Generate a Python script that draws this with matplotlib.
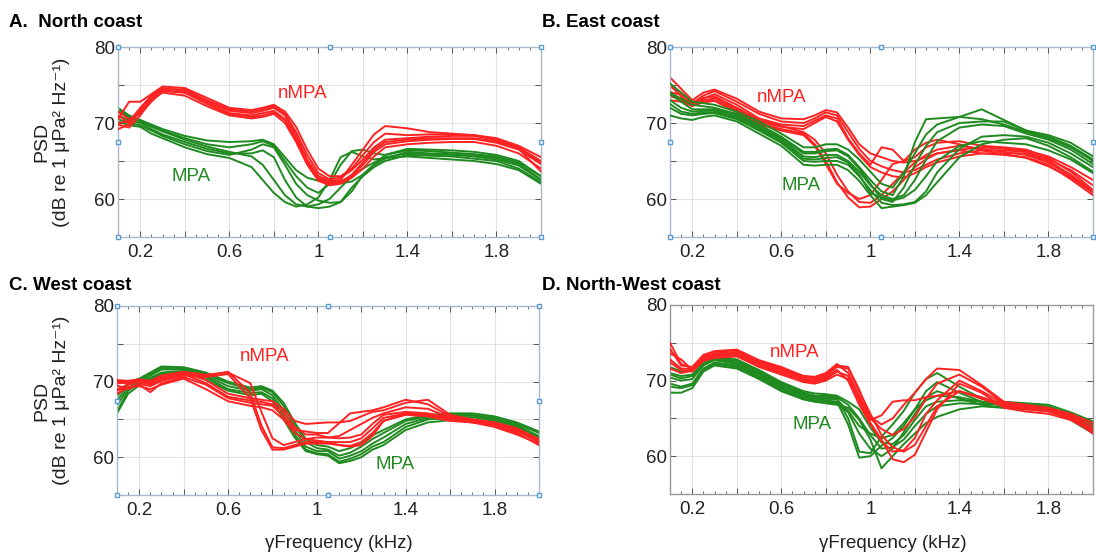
import numpy as np
import matplotlib
matplotlib.use('Agg')
import matplotlib.pyplot as plt
from matplotlib.ticker import FixedLocator, FixedFormatter, MultipleLocator

plt.rcParams['font.family'] = ['Liberation Sans', 'DejaVu Sans']

# frequency grid (kHz) shared by all curves
FREQ = [0.1, 0.15, 0.2, 0.25, 0.3, 0.4, 0.5, 0.6, 0.7, 0.75, 0.8, 0.85, 0.9, 0.95,
        1.0, 1.05, 1.1, 1.15, 1.2, 1.25, 1.3, 1.4, 1.5, 1.6, 1.7, 1.8, 1.9, 2.0]

# A. North coast
NORTH_NMPA = [
    [69.2, 69.8, 71.8, 73.5, 74.5, 74.4, 73.0, 71.8, 71.5, 71.8, 72.2, 71.2, 68.8, 65.8, 63.4, 62.6, 62.8, 63.8, 65.2, 66.8, 67.8, 68.0, 68.2, 68.3, 68.3, 67.8, 66.8, 65.0],
    [70.5, 72.8, 72.8, 73.8, 74.8, 74.6, 73.3, 72.0, 71.7, 72.0, 72.4, 71.5, 69.5, 66.5, 64.0, 63.0, 63.0, 64.0, 65.8, 67.5, 68.6, 68.4, 68.5, 68.5, 68.4, 68.0, 67.0, 65.5],
    [71.5, 70.5, 71.2, 72.8, 74.2, 74.0, 72.6, 71.3, 71.0, 71.3, 71.6, 70.5, 68.0, 65.0, 62.8, 62.2, 62.3, 63.0, 64.5, 66.2, 67.2, 67.6, 67.8, 67.9, 67.9, 67.4, 66.5, 64.6],
    [69.8, 69.4, 71.0, 73.0, 74.0, 73.6, 72.2, 71.0, 70.6, 70.8, 71.2, 70.0, 67.5, 64.5, 62.4, 61.8, 62.0, 62.8, 64.0, 65.6, 66.8, 67.2, 67.4, 67.5, 67.5, 67.0, 66.0, 64.0],
    [70.0, 70.2, 72.0, 73.6, 74.6, 74.2, 72.8, 71.6, 71.3, 71.6, 72.0, 71.0, 68.4, 65.2, 63.0, 62.4, 62.5, 64.5, 66.5, 68.5, 69.6, 69.3, 68.8, 68.6, 68.4, 67.8, 66.6, 64.8],
    [71.0, 70.0, 71.5, 73.2, 74.3, 74.0, 72.5, 71.2, 70.8, 71.0, 71.4, 70.4, 67.8, 64.8, 62.6, 62.0, 62.2, 63.2, 64.8, 66.5, 67.5, 67.8, 68.0, 68.0, 68.0, 67.6, 66.6, 63.6],
]
NORTH_MPA = [
    [72.0, 71.0, 70.4, 69.8, 69.2, 68.3, 67.7, 67.5, 67.6, 67.8, 67.2, 65.5, 63.8, 62.8, 62.4, 62.2, 62.1, 62.3, 63.2, 64.5, 65.8, 66.6, 66.5, 66.4, 66.2, 65.8, 65.0, 63.0],
    [71.5, 70.6, 70.2, 69.5, 68.9, 67.8, 66.9, 66.2, 65.6, 64.5, 62.5, 60.5, 59.3, 59.0, 59.3, 60.0, 61.5, 63.0, 64.0, 64.8, 65.5, 66.0, 65.9, 65.8, 65.6, 65.2, 64.4, 62.5],
    [71.0, 70.3, 70.0, 69.2, 68.5, 67.5, 66.6, 66.0, 66.0, 66.4, 65.5, 62.5, 60.2, 59.0, 58.8, 59.0, 59.6, 61.5, 63.0, 64.2, 65.0, 65.8, 65.7, 65.6, 65.3, 65.0, 64.0, 62.2],
    [70.5, 70.0, 69.7, 69.0, 68.3, 67.2, 66.3, 65.8, 66.5, 67.2, 66.8, 64.5, 62.0, 60.5, 59.8, 59.5, 59.6, 61.0, 63.2, 64.5, 65.3, 66.2, 66.0, 65.9, 65.8, 65.4, 64.6, 62.6],
    [71.8, 70.8, 70.3, 69.6, 69.0, 68.0, 67.2, 66.8, 67.2, 67.6, 67.0, 65.0, 63.0, 61.5, 60.8, 62.0, 64.5, 66.3, 66.5, 66.0, 65.8, 66.4, 66.3, 66.1, 65.9, 65.6, 64.8, 63.0],
    [70.2, 69.7, 69.5, 68.6, 68.0, 66.8, 65.9, 65.4, 64.2, 62.5, 60.8, 59.6, 59.0, 59.3, 60.2, 62.5, 65.5, 66.2, 65.6, 65.2, 65.4, 65.6, 65.4, 65.2, 65.0, 64.6, 63.8, 62.0],
]

# B. East coast
EAST_NMPA = [
    [76.0, 74.5, 73.0, 74.0, 74.4, 73.2, 71.5, 70.6, 70.5, 71.0, 71.7, 71.4, 69.4, 67.2, 66.0, 65.5, 65.0, 64.8, 65.0, 65.5, 66.0, 66.5, 66.8, 66.6, 66.4, 65.6, 64.2, 62.5],
    [74.8, 74.0, 72.6, 73.6, 74.2, 72.8, 71.2, 70.2, 70.0, 70.6, 71.4, 71.0, 68.8, 66.6, 65.0, 64.3, 63.8, 63.5, 63.8, 64.5, 65.2, 66.0, 66.4, 66.4, 66.2, 65.2, 63.8, 61.8],
    [73.5, 73.2, 72.4, 73.2, 73.8, 72.4, 70.6, 69.8, 69.6, 70.3, 71.0, 70.6, 68.0, 66.0, 64.5, 66.8, 66.5, 65.0, 65.5, 66.8, 67.4, 67.6, 67.0, 66.8, 66.5, 65.4, 63.6, 61.2],
    [74.2, 73.0, 72.2, 72.9, 73.3, 71.8, 70.2, 69.5, 69.2, 70.0, 70.8, 70.2, 67.8, 65.8, 64.2, 63.5, 63.0, 62.8, 63.4, 64.2, 64.8, 65.6, 66.0, 66.0, 66.0, 65.0, 63.2, 61.0],
    [75.0, 73.5, 72.5, 73.3, 73.5, 72.0, 70.4, 69.6, 68.8, 67.8, 66.0, 63.2, 61.0, 59.6, 59.5, 60.5, 62.0, 63.5, 64.8, 65.8, 66.5, 67.0, 66.6, 66.2, 65.8, 64.8, 63.0, 60.8],
    [74.0, 73.8, 72.8, 73.0, 73.0, 71.6, 70.0, 69.2, 68.6, 67.2, 65.0, 62.2, 60.2, 58.9, 59.0, 60.0, 61.0, 62.5, 64.2, 65.2, 66.0, 66.4, 66.0, 65.8, 65.5, 64.5, 62.6, 60.5],
    [73.0, 72.8, 72.3, 72.7, 72.9, 71.4, 69.8, 69.0, 68.4, 67.0, 64.6, 62.0, 60.8, 60.0, 60.5, 62.5, 64.6, 65.0, 66.5, 67.4, 67.8, 67.2, 66.4, 65.9, 65.4, 64.3, 62.8, 60.9],
]
EAST_MPA = [
    [75.2, 74.0, 72.8, 72.6, 72.4, 71.5, 70.2, 68.6, 66.8, 66.8, 67.2, 67.2, 66.5, 65.2, 63.6, 62.0, 61.5, 63.5, 66.0, 68.5, 69.8, 70.8, 71.8, 70.4, 69.0, 68.4, 67.4, 65.6],
    [74.0, 73.2, 72.4, 72.2, 72.0, 71.2, 69.8, 68.2, 66.2, 66.2, 66.5, 66.6, 65.8, 64.2, 62.5, 61.0, 60.5, 63.0, 67.5, 70.5, 70.6, 70.8, 70.5, 69.8, 68.8, 68.0, 66.8, 65.0],
    [73.0, 72.0, 71.5, 71.6, 71.6, 70.8, 69.4, 67.8, 65.6, 65.5, 65.8, 65.8, 65.0, 63.6, 61.8, 60.5, 60.0, 60.5, 62.5, 65.2, 67.6, 69.4, 69.8, 69.6, 68.6, 67.8, 66.5, 64.6],
    [72.0, 71.2, 71.0, 71.2, 71.3, 70.5, 69.0, 67.4, 65.0, 64.9, 65.0, 65.0, 64.5, 63.0, 61.2, 59.5, 59.2, 59.3, 59.6, 61.0, 63.5, 66.6, 68.2, 68.4, 68.2, 67.4, 66.0, 64.2],
    [71.0, 70.6, 70.4, 70.8, 71.0, 70.2, 68.6, 67.0, 64.5, 64.4, 64.5, 64.5, 63.8, 62.4, 60.5, 58.8, 59.0, 59.2, 59.5, 60.5, 62.2, 65.5, 67.2, 67.8, 68.0, 67.0, 65.5, 63.6],
    [73.8, 72.8, 71.8, 71.8, 71.8, 71.0, 69.6, 68.0, 66.0, 66.0, 66.3, 66.4, 65.6, 64.0, 62.0, 60.0, 59.6, 61.5, 64.5, 67.0, 68.8, 70.0, 70.2, 70.2, 69.0, 68.2, 67.0, 65.2],
    [72.5, 71.5, 71.2, 71.4, 71.4, 70.6, 69.2, 67.6, 65.3, 65.2, 65.4, 65.5, 64.8, 63.2, 60.8, 60.2, 59.8, 60.2, 61.2, 63.0, 65.0, 67.0, 67.6, 67.4, 67.2, 66.4, 65.2, 63.4],
]

# C. West coast
WEST_NMPA = [
    [69.0, 69.6, 70.0, 69.8, 70.4, 71.0, 70.8, 71.3, 68.5, 64.2, 61.3, 61.2, 61.6, 62.0, 62.0, 62.0, 62.0, 62.0, 62.5, 63.8, 65.2, 65.8, 65.6, 65.0, 64.8, 64.4, 63.6, 62.0],
    [68.4, 69.2, 69.7, 69.4, 70.1, 70.8, 70.6, 71.0, 67.8, 63.6, 61.0, 61.0, 61.4, 61.8, 61.8, 61.8, 61.6, 61.5, 62.0, 63.2, 64.8, 65.6, 65.4, 64.8, 64.6, 64.2, 63.2, 61.6],
    [70.0, 70.0, 70.2, 70.0, 70.6, 71.2, 70.2, 68.4, 67.8, 67.6, 67.4, 66.4, 64.8, 64.4, 64.5, 64.6, 64.6, 64.8, 65.4, 66.0, 66.2, 67.2, 67.6, 65.6, 65.0, 64.6, 63.8, 62.4],
    [69.5, 69.0, 69.6, 68.6, 69.8, 70.6, 69.6, 67.8, 67.2, 67.0, 66.8, 65.4, 63.6, 63.4, 63.2, 63.2, 64.5, 65.8, 66.0, 66.2, 66.6, 67.6, 67.0, 65.4, 64.8, 64.2, 63.4, 62.2],
    [68.8, 69.3, 69.4, 69.0, 69.6, 70.4, 69.0, 67.4, 66.8, 66.6, 66.2, 65.0, 63.2, 62.4, 62.2, 62.0, 61.6, 61.4, 61.6, 62.8, 64.8, 65.8, 65.6, 65.0, 64.6, 64.0, 63.0, 61.8],
    [69.8, 69.8, 70.0, 69.6, 70.2, 71.0, 69.8, 68.0, 67.5, 67.3, 67.0, 66.0, 64.0, 63.0, 63.0, 62.6, 62.8, 63.6, 64.4, 65.2, 65.8, 66.6, 66.4, 65.2, 64.9, 64.5, 63.5, 62.0],
    [70.2, 70.1, 70.3, 70.1, 70.8, 71.3, 70.9, 71.2, 69.8, 66.0, 62.5, 61.6, 62.0, 62.4, 62.6, 62.6, 62.5, 62.6, 63.0, 64.4, 65.6, 66.0, 65.8, 65.2, 64.9, 64.6, 63.8, 62.3],
]
WEST_MPA = [
    [66.0, 68.8, 69.8, 70.5, 71.2, 71.4, 70.6, 69.0, 68.5, 68.6, 67.8, 65.6, 63.0, 61.0, 60.5, 60.4, 59.4, 59.8, 60.4, 61.4, 62.0, 64.0, 65.0, 65.2, 65.3, 64.8, 64.0, 62.6],
    [66.8, 69.2, 70.0, 70.8, 71.6, 71.6, 70.8, 69.4, 68.8, 69.0, 68.2, 66.2, 63.6, 61.4, 60.8, 60.8, 59.8, 60.2, 60.8, 61.8, 62.6, 64.4, 65.2, 65.4, 65.5, 65.0, 64.2, 62.8],
    [67.4, 69.6, 70.2, 71.0, 71.8, 71.8, 71.0, 69.8, 69.0, 69.2, 68.6, 66.8, 64.2, 62.0, 61.2, 61.0, 60.2, 60.6, 61.4, 62.4, 63.2, 64.8, 65.4, 65.6, 65.6, 65.2, 64.4, 63.2],
    [65.8, 68.4, 69.5, 70.3, 71.0, 71.2, 70.3, 68.8, 68.2, 68.4, 67.4, 65.0, 62.6, 60.8, 60.4, 60.2, 59.2, 59.5, 60.0, 61.0, 61.6, 63.6, 64.6, 64.9, 65.0, 64.5, 63.6, 62.2],
    [68.0, 69.9, 70.4, 71.2, 72.0, 71.9, 71.2, 70.0, 69.2, 69.4, 68.8, 67.2, 64.6, 62.4, 61.6, 61.4, 60.8, 61.2, 61.9, 62.9, 63.6, 65.0, 65.6, 65.8, 65.8, 65.4, 64.6, 63.4],
]

# D. North-West coast
NW_NMPA = [
    [75.0, 72.2, 71.6, 73.0, 73.6, 73.8, 72.4, 71.4, 70.4, 70.2, 70.6, 71.8, 71.6, 68.6, 65.6, 62.8, 61.2, 60.6, 61.5, 64.0, 66.6, 68.6, 67.8, 66.8, 66.4, 66.2, 65.2, 63.6],
    [73.6, 72.8, 71.4, 73.2, 73.8, 74.0, 72.6, 71.6, 70.6, 70.4, 70.8, 72.0, 71.8, 68.8, 65.2, 64.2, 65.0, 66.8, 68.4, 70.2, 71.6, 71.4, 69.4, 67.2, 66.8, 66.4, 65.6, 64.4],
    [72.4, 71.4, 71.2, 72.6, 73.2, 73.4, 72.0, 71.0, 70.0, 69.8, 70.2, 71.2, 70.6, 67.6, 64.8, 65.4, 67.2, 67.4, 67.4, 67.8, 68.0, 68.6, 67.6, 66.6, 66.2, 65.9, 65.0, 63.4],
    [71.6, 71.0, 71.3, 72.6, 73.0, 73.2, 71.8, 70.8, 69.8, 69.6, 70.0, 70.8, 70.2, 67.2, 64.4, 62.2, 59.6, 59.2, 60.2, 63.2, 66.2, 69.6, 68.4, 66.4, 65.9, 65.6, 64.8, 63.2],
    [74.2, 72.0, 71.8, 73.4, 73.9, 74.1, 72.7, 71.8, 70.6, 70.5, 71.0, 72.2, 71.0, 68.0, 65.0, 63.6, 62.8, 63.6, 65.2, 67.6, 69.6, 70.8, 69.2, 67.0, 66.6, 66.3, 65.4, 64.0],
    [72.8, 71.6, 71.5, 72.8, 73.4, 73.6, 72.2, 71.2, 70.2, 70.0, 70.4, 71.4, 70.0, 66.8, 64.2, 62.0, 60.6, 60.8, 62.4, 65.6, 67.4, 70.0, 68.6, 66.9, 66.5, 66.0, 65.1, 63.0],
]
NW_MPA = [
    [71.8, 71.2, 71.4, 72.6, 73.2, 72.8, 71.4, 69.8, 68.6, 68.3, 68.2, 68.0, 67.2, 66.2, 63.8, 61.8, 61.6, 62.8, 64.8, 66.6, 67.2, 67.4, 67.2, 67.2, 67.0, 66.8, 65.8, 64.6],
    [70.4, 70.0, 70.2, 72.0, 72.8, 72.4, 71.0, 69.4, 68.2, 67.9, 67.8, 67.6, 65.0, 60.6, 60.4, 62.6, 64.2, 66.0, 68.4, 70.2, 71.0, 69.2, 67.6, 67.0, 66.8, 66.5, 65.6, 64.0],
    [69.6, 69.2, 69.6, 71.6, 72.4, 72.0, 70.6, 69.0, 67.8, 67.6, 67.4, 67.2, 64.2, 59.8, 60.0, 61.4, 62.4, 64.0, 66.2, 68.6, 69.8, 68.4, 67.2, 66.6, 66.4, 66.2, 65.2, 63.6],
    [68.4, 68.4, 69.0, 71.2, 72.0, 71.6, 70.2, 68.6, 67.5, 67.2, 67.0, 66.8, 66.4, 64.8, 62.2, 58.4, 60.0, 61.6, 63.0, 64.4, 65.2, 66.2, 66.6, 66.4, 66.3, 66.0, 64.8, 63.0],
    [71.0, 70.6, 70.8, 72.3, 73.0, 72.6, 71.2, 69.6, 68.4, 68.0, 68.0, 67.8, 66.8, 65.0, 62.8, 61.0, 61.2, 62.2, 64.0, 65.6, 66.6, 67.0, 66.9, 66.9, 66.8, 66.6, 65.4, 64.2],
    [69.2, 69.0, 69.4, 71.4, 72.2, 71.8, 70.4, 68.8, 67.6, 67.4, 67.2, 67.0, 65.8, 63.0, 61.0, 60.0, 61.0, 63.2, 65.6, 67.8, 68.6, 67.6, 66.8, 66.4, 66.2, 66.0, 65.0, 63.4],
    [70.8, 70.3, 70.6, 72.1, 72.7, 72.2, 70.8, 69.2, 68.0, 67.8, 67.6, 67.5, 66.0, 64.0, 63.0, 62.4, 62.8, 64.4, 66.2, 67.4, 68.0, 67.8, 67.2, 66.8, 66.6, 66.3, 65.3, 63.8],
]

TITLES = ['A.  North coast', 'B. East coast', 'C. West coast', 'D. North-West coast']
X_TICKS = [0.2, 0.4, 0.6, 0.8, 1.0, 1.2, 1.4, 1.6, 1.8]
X_TICK_LABELS = ['0.2', '', '0.6', '', '1', '', '1.4', '', '1.8']
Y_TICKS = [60, 65, 70, 75, 80]
Y_TICK_LABELS = ['60', '', '70', '', '80']

RED = '#ff2222'
GREEN = '#1f8a1f'

W, H = 1096, 554
fig = plt.figure(figsize=(W / 100, H / 100), dpi=100)


def px_rect(left, top, right, bottom):
    return [left / W, 1 - bottom / H, (right - left) / W, (bottom - top) / H]


panels = [
    dict(nmpa=NORTH_NMPA, mpa=NORTH_MPA, rect=px_rect(118, 47, 541, 237), title_xy=(9, 27),
         lab_n=(0.93, 73.9), lab_m=(0.43, 62.9), handles=True, frame='#a9b8c8', red_top=True, ylab=True, xlab=False),
    dict(nmpa=EAST_NMPA, mpa=EAST_MPA, rect=px_rect(670, 47, 1093, 237), title_xy=(542, 27),
         lab_n=(0.60, 73.4), lab_m=(0.69, 61.8), handles=True, frame='#a9b8c8', red_top=False, ylab=False, xlab=False),
    dict(nmpa=WEST_NMPA, mpa=WEST_MPA, rect=px_rect(117, 306, 539, 495), title_xy=(9, 290),
         lab_n=(0.765, 73.3), lab_m=(1.35, 59.1), handles=True, frame='#a9b8c8', red_top=True, ylab=True, xlab=True),
    dict(nmpa=NW_NMPA, mpa=NW_MPA, rect=px_rect(670, 305, 1093, 494), title_xy=(542, 290),
         lab_n=(0.66, 73.7), lab_m=(0.74, 64.2), handles=False, frame='#999999', red_top=True, ylab=False, xlab=True),
]

for title, p in zip(TITLES, panels):
    ax = fig.add_axes(p['rect'])
    red_z, green_z = (3, 2) if p['red_top'] else (2, 3)
    for curve in p['mpa']:
        ax.plot(FREQ, curve, color=GREEN, lw=1.4, zorder=green_z)
    for curve in p['nmpa']:
        ax.plot(FREQ, curve, color=RED, lw=1.4, zorder=red_z)

    ax.set_xlim(0.1, 2.0)
    ax.set_ylim(55, 80)
    ax.xaxis.set_major_locator(FixedLocator(X_TICKS))
    ax.xaxis.set_major_formatter(FixedFormatter(X_TICK_LABELS))
    ax.xaxis.set_minor_locator(MultipleLocator(0.05))
    ax.yaxis.set_major_locator(FixedLocator(Y_TICKS))
    ax.yaxis.set_major_formatter(FixedFormatter(Y_TICK_LABELS))
    ax.tick_params(which='both', direction='in', top=True, right=True, color='#555555')
    ax.tick_params(which='major', length=4, width=0.7, labelsize=13.5, labelcolor='#222222')
    ax.tick_params(which='minor', length=2.2, width=0.6)
    ax.tick_params(axis='x', pad=5)
    ax.tick_params(axis='y', pad=2)
    ax.grid(True, color='#e3e3e3', lw=0.8)
    ax.set_axisbelow(True)
    for s in ax.spines.values():
        s.set_color(p['frame'])
        s.set_linewidth(1.0)

    ax.text(*p['lab_n'], 'nMPA', color=RED, fontsize=13.5, ha='center', va='center', zorder=5)
    ax.text(*p['lab_m'], 'MPA', color=GREEN, fontsize=13.5, ha='center', va='center', zorder=5)

    if p['handles']:
        ax.plot([0, 0.5, 1, 1, 1, 0.5, 0, 0], [0, 0, 0, 0.5, 1, 1, 1, 0.5], 's',
                transform=ax.transAxes, ms=3.5, mfc='white', mec='#5a9bd5', mew=1.0,
                clip_on=False, zorder=10)

    tx, ty = p['title_xy']
    fig.text(tx / W, 1 - ty / H, title, fontsize=13.5, fontweight='bold', ha='left', va='baseline')

    l, b, w, h = p['rect']
    if p['ylab']:
        fig.text(52 / W, b + h / 2, 'PSD\n(dB re 1 μPa² Hz⁻¹)', rotation=90, fontsize=14,
                 ha='center', va='center', multialignment='center', color='#222222')
    if p['xlab']:
        fig.text(l + w / 2 + 11 / W, 6 / H, 'γFrequency (kHz)', fontsize=13.5,
                 ha='center', va='baseline', color='#222222')

fig.savefig('out.png', dpi=100)
